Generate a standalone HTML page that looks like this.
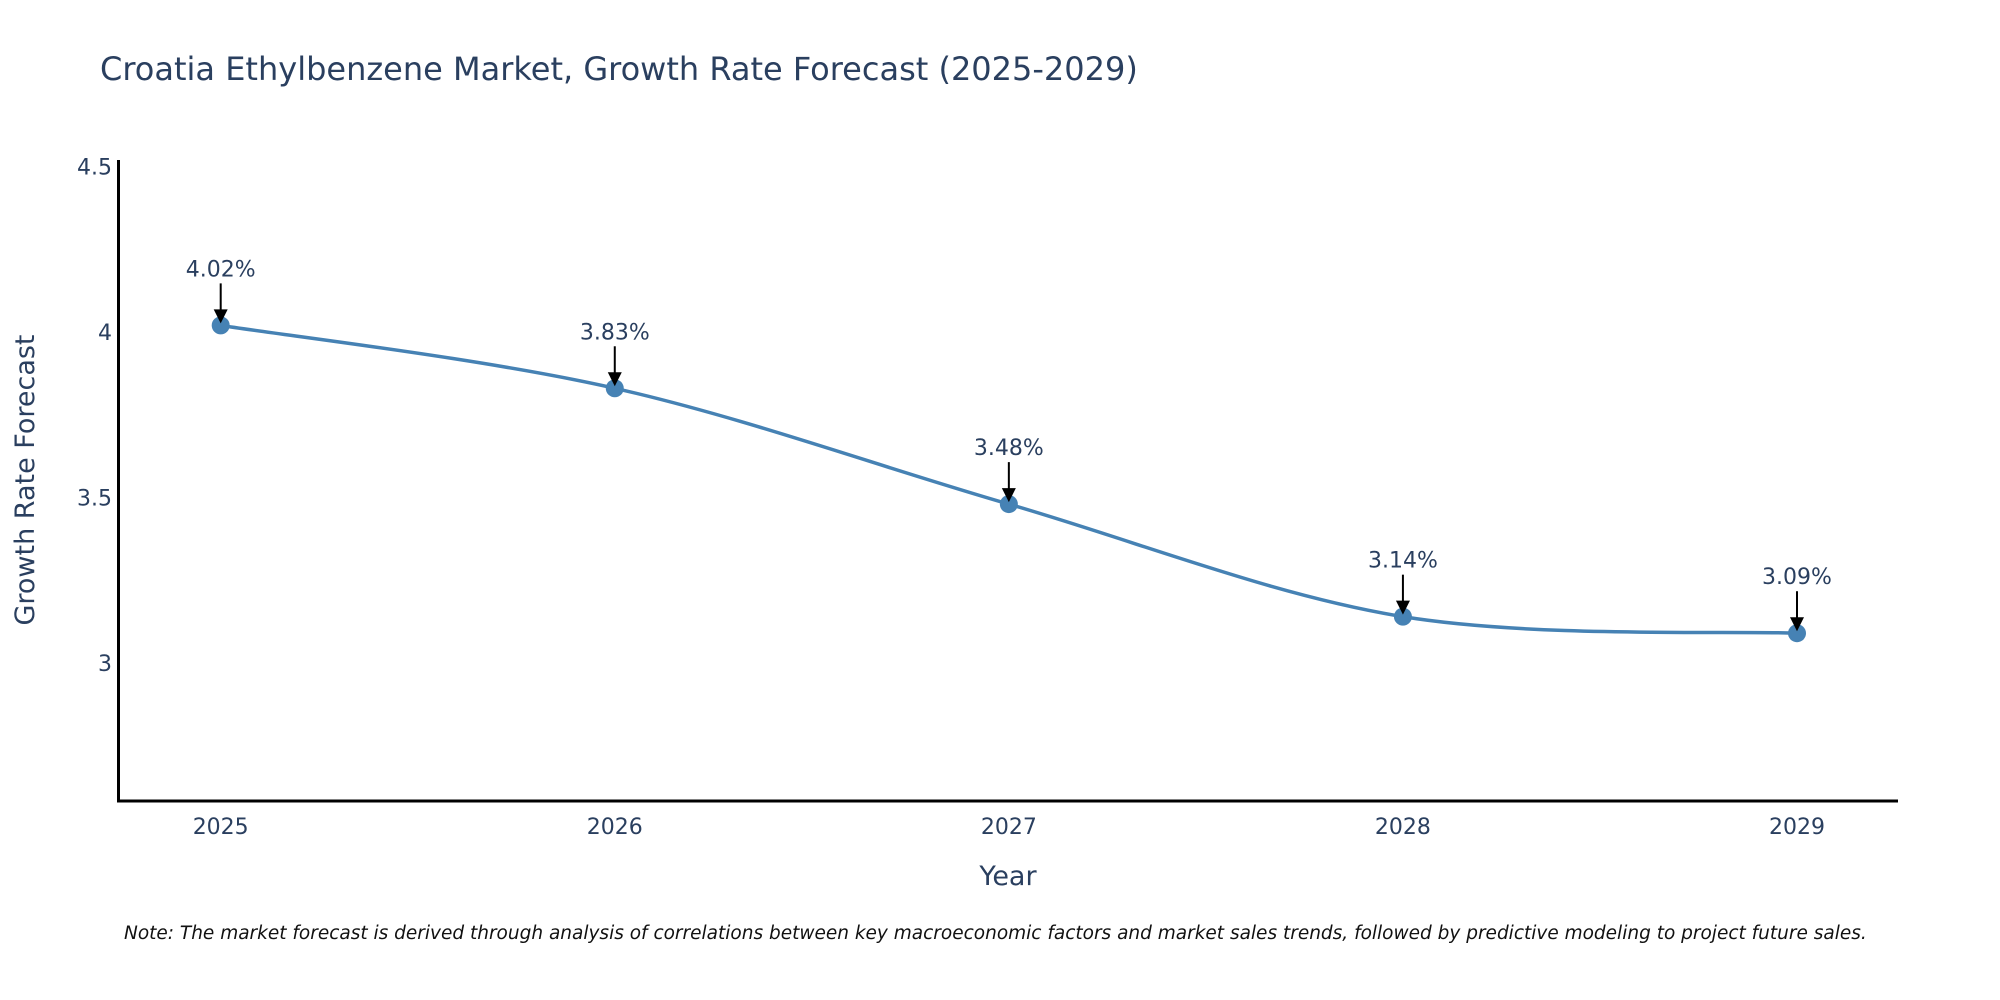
<!DOCTYPE html>
<html><head><meta charset="utf-8"><style>
body{margin:0;background:#fff;}
svg{display:block;font-family:"DejaVu Sans","Liberation Sans",sans-serif;}
</style></head><body>
<svg id="chart" width="2000" height="1000">
<text x="100" y="80" font-size="32" fill="#2a3f5f">Croatia Ethylbenzene Market, Growth Rate Forecast (2025-2029)</text>
<g id="yticks"></g><g id="xticks"></g>
<line x1="118.5" y1="160" x2="118.5" y2="802" stroke="#000" stroke-width="3"/>
<line x1="117" y1="801" x2="1898" y2="801" stroke="#000" stroke-width="3"/>
<path id="line" fill="none" stroke="#4682b4" stroke-width="3.5"/>
<g id="marks"></g>
<text x="1008" y="885" font-size="27" fill="#2a3f5f" text-anchor="middle">Year</text>
<text transform="translate(34,480) rotate(-90)" font-size="27" fill="#2a3f5f" text-anchor="middle">Growth Rate Forecast</text>
<text x="124" y="939" font-size="18.5" font-style="italic" fill="#111">Note: The market forecast is derived through analysis of correlations between key macroeconomic factors and market sales trends, followed by predictive modeling to project future sales.</text>
</svg>
<script>
const years=[2025,2026,2027,2028,2029];
const values=[4.02,3.83,3.48,3.14,3.09];
const labels=["4.02%","3.83%","3.48%","3.14%","3.09%"];
const yTicks=[3,3.5,4,4.5];
const yTickLabels=["3","3.5","4","4.5"];
const NS="http://www.w3.org/2000/svg";
function xs(v){return 220.7+(v-2025)*(1797-220.7)/4;}
function ys(v){return 663-(v-3)*331;}
function mk(tag,attrs,parent){const e=document.createElementNS(NS,tag);for(const k in attrs)e.setAttribute(k,attrs[k]);parent.appendChild(e);return e;}
const yt=document.getElementById('yticks');
yTicks.forEach((t,i)=>{const e=mk('text',{x:112,y:ys(t)+8,'font-size':22,fill:'#2a3f5f','text-anchor':'end'},yt);e.textContent=yTickLabels[i];

});
const xt=document.getElementById('xticks');
years.forEach(y=>{const e=mk('text',{x:xs(y),y:834,'font-size':22,fill:'#2a3f5f','text-anchor':'middle'},xt);e.textContent=y;

});
const P=years.map((y,i)=>[xs(y),ys(values[i])]);
let d=`M${P[0][0]},${P[0][1]}`;
for(let i=0;i<P.length-1;i++){const p0=P[Math.max(i-1,0)],p1=P[i],p2=P[i+1],p3=P[Math.min(i+2,P.length-1)];const t=6;
d+=` C${p1[0]+(p2[0]-p0[0])/t},${p1[1]+(p2[1]-p0[1])/t} ${p2[0]-(p3[0]-p1[0])/t},${p2[1]-(p3[1]-p1[1])/t} ${p2[0]},${p2[1]}`;}
document.getElementById('line').setAttribute('d',d);
const g=document.getElementById('marks');
P.forEach((p,i)=>{
const c=mk('circle',{cx:p[0],cy:p[1],r:9,fill:'#4682b4'},g);


const l=mk('line',{x1:p[0],y1:p[1]-42,x2:p[0],y2:p[1]-14,stroke:'#000','stroke-width':2},g);


const a=mk('polygon',{points:`${p[0]-7},${p[1]-16} ${p[0]+7},${p[1]-16} ${p[0]},${p[1]-2}`,fill:'#000'},g);


const t=mk('text',{x:p[0],y:p[1]-49,'font-size':22,fill:'#2a3f5f','text-anchor':'middle'},g);t.textContent=labels[i];


});
</script>
</body></html>
